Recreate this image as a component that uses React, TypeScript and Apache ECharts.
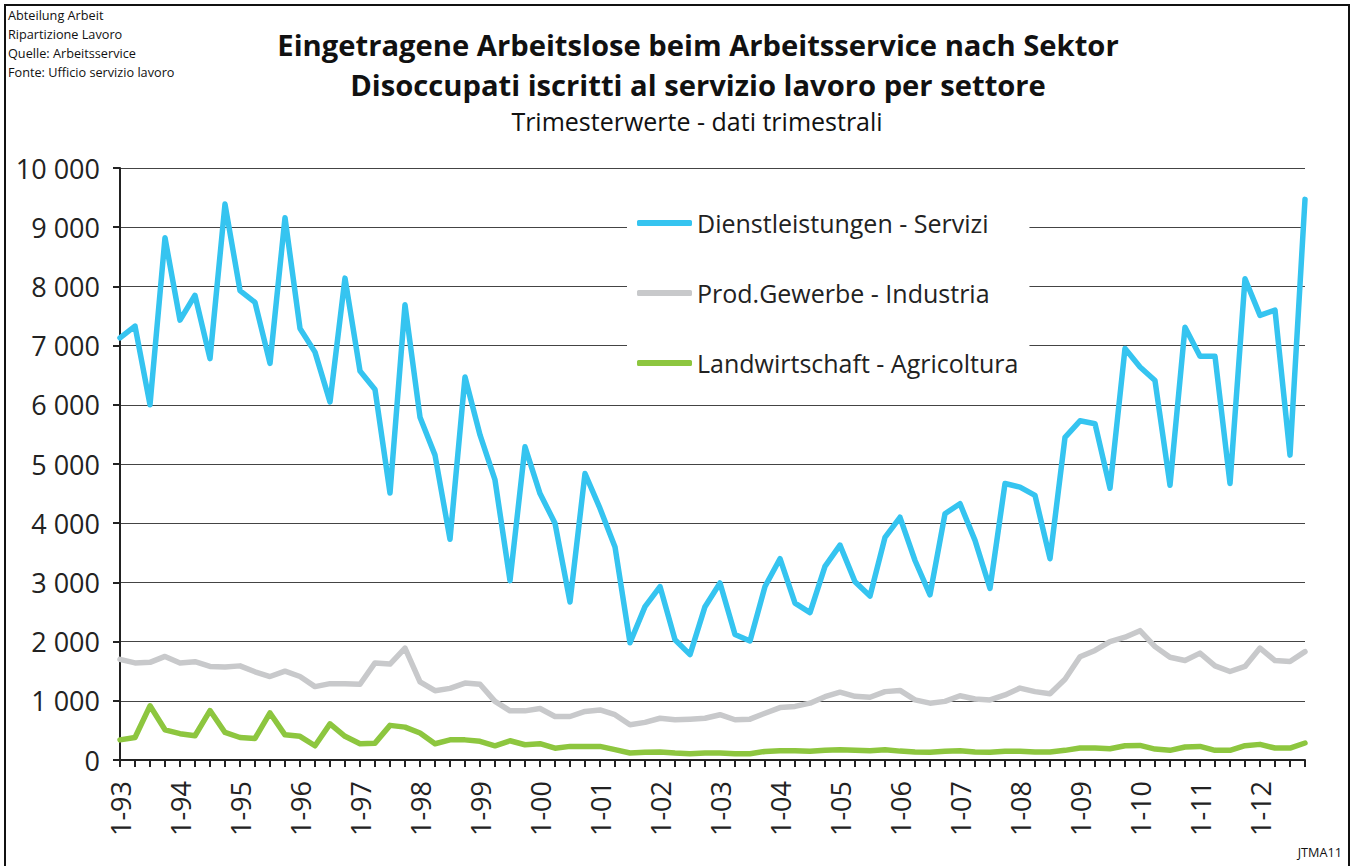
import React, { useEffect, useRef } from "react";
import * as echarts from "echarts";

const years = ["93","94","95","96","97","98","99","00","01","02","03","04","05","06","07","08","09","10","11","12"];
const quarters: string[] = [];
years.forEach((y) => { for (let q = 1; q <= 4; q++) quarters.push(q + "-" + y); });

const servizi = [7130,7330,6000,8820,7430,7850,6780,9390,7930,7730,6700,9160,7290,6890,6050,8140,6570,6260,4510,7690,5790,5150,3730,6470,5490,4730,3030,5290,4500,4000,2670,4840,4250,3600,1980,2590,2930,2030,1780,2590,2990,2120,2010,2930,3400,2650,2490,3270,3630,3010,2770,3760,4100,3370,2790,4160,4330,3710,2900,4670,4610,4470,3400,5450,5730,5680,4590,6950,6640,6410,4640,7310,6820,6820,4670,8130,7510,7600,5150,9470];
const industria = [1700,1640,1650,1750,1640,1660,1580,1570,1590,1490,1410,1500,1410,1240,1290,1290,1280,1640,1620,1890,1320,1170,1210,1300,1280,990,830,830,870,735,735,820,845,765,595,635,705,680,690,705,765,680,690,790,885,905,960,1070,1145,1075,1060,1155,1175,1015,960,990,1085,1030,1015,1100,1215,1155,1120,1365,1745,1850,2000,2075,2185,1915,1735,1680,1805,1590,1495,1580,1890,1680,1665,1830];
const agricoltura = [340,380,915,510,445,410,835,465,380,365,795,425,400,240,610,400,275,285,585,555,455,275,340,340,315,240,325,258,275,200,230,230,230,175,118,130,135,118,107,118,118,107,107,145,157,157,146,163,174,163,157,174,150,135,129,146,157,135,129,146,146,135,135,163,202,202,191,241,247,185,163,219,230,163,163,241,264,202,202,287];

const seriesNames = ["Dienstleistungen - Servizi", "Prod.Gewerbe - Industria", "Landwirtschaft - Agricoltura"];
const colors = ["#35C4F0", "#C8C9CB", "#8DC63F"];
const titleLines = ["Eingetragene Arbeitslose beim Arbeitsservice nach Sektor", "Disoccupati iscritti al servizio lavoro per settore"];
const subtitle = "Trimesterwerte - dati trimestrali";
const sourceLines = ["Abteilung Arbeit", "Ripartizione Lavoro", "Quelle: Arbeitsservice", "Fonte: Ufficio servizio lavoro"];
const code = "JTMA11";

const FONT = "Open Sans";

export default function App() {
  const ref = useRef<HTMLDivElement>(null);
  useEffect(() => {
    if (!ref.current) return;
    const chart = echarts.init(ref.current, null, { renderer: "svg" });
    const fmt = (v: number) => (v === 0 ? "0" : String(v).replace(/\B(?=(\d{3})+(?!\d))/g, " "));
    const dataSets = [servizi, industria, agricoltura];
    chart.setOption({
      animation: false,
      backgroundColor: "#fff",
      textStyle: { fontFamily: FONT },
      grid: { left: 120, right: 46, top: 168, bottom: 106 },
      legend: {
        left: 627,
        top: 190,
        orient: "vertical",
        backgroundColor: "#fff",
        padding: [20, 11, 20, 10],
        itemWidth: 55,
        itemHeight: 6,
        itemGap: 44,
        icon: "roundRect",
        textStyle: { fontFamily: FONT, fontSize: 25, color: "#222", lineHeight: 26 },
        data: seriesNames,
        z: 10,
      },
      xAxis: {
        type: "category",
        data: quarters,
        boundaryGap: false,
        axisLine: { lineStyle: { color: "#222", width: 2 } },
        axisTick: { show: true, interval: 0, length: 7, lineStyle: { color: "#222", width: 2 } },
        axisLabel: { interval: 3, rotate: 90, fontSize: 27, color: "#222", margin: 21, fontFamily: FONT },
        splitLine: { show: false },
      },
      yAxis: {
        type: "value",
        min: 0,
        max: 10000,
        interval: 1000,
        axisLine: { show: true, lineStyle: { color: "#222", width: 2 } },
        axisTick: { show: true, length: 7, lineStyle: { color: "#222", width: 2 } },
        axisLabel: { formatter: fmt, fontSize: 27, color: "#222", margin: 20, fontFamily: FONT },
        splitLine: { lineStyle: { color: "#444", width: 1 } },
      },
      series: dataSets.map((d, i) => ({
        name: seriesNames[i],
        type: "line",
        data: d,
        showSymbol: false,
        symbol: "none",
        lineStyle: { color: colors[i], width: 5.5, cap: "round", join: "round" },
        itemStyle: { color: colors[i] },
        z: 3 - i + 2,
      })),
      graphic: [
        { type: "rect", shape: { x: 5, y: 5, width: 1344, height: 880 }, style: { fill: "none", stroke: "#111", lineWidth: 2 }, silent: true },
        ...sourceLines.map((t, i) => ({
          type: "text",
          left: 8,
          top: 8 + i * 19.3,
          style: { text: t, fontSize: 12.7, fill: "#111", fontFamily: FONT },
        })),
        {
          type: "text",
          x: 698,
          y: 45,
          style: { text: titleLines[0], fontSize: 29.2, fontWeight: "bold", fill: "#111", fontFamily: FONT, textAlign: "center", textVerticalAlign: "middle" },
        },
        {
          type: "text",
          x: 698,
          y: 85,
          style: { text: titleLines[1], fontSize: 29.2, fontWeight: "bold", fill: "#111", fontFamily: FONT, textAlign: "center", textVerticalAlign: "middle" },
        },
        {
          type: "text",
          x: 697,
          y: 121,
          style: { text: subtitle, fontSize: 25, fill: "#111", fontFamily: FONT, textAlign: "center", textVerticalAlign: "middle" },
        },
        {
          type: "text",
          x: 1342,
          y: 852,
          style: { text: code, fontSize: 12.7, fill: "#111", fontFamily: FONT, textAlign: "right", textVerticalAlign: "middle" },
        },
      ],
    });
    return () => chart.dispose();
  }, []);
  return <div ref={ref} style={{ position: "absolute", left: 0, top: 0, width: 1351, height: 866 }} />;
}
